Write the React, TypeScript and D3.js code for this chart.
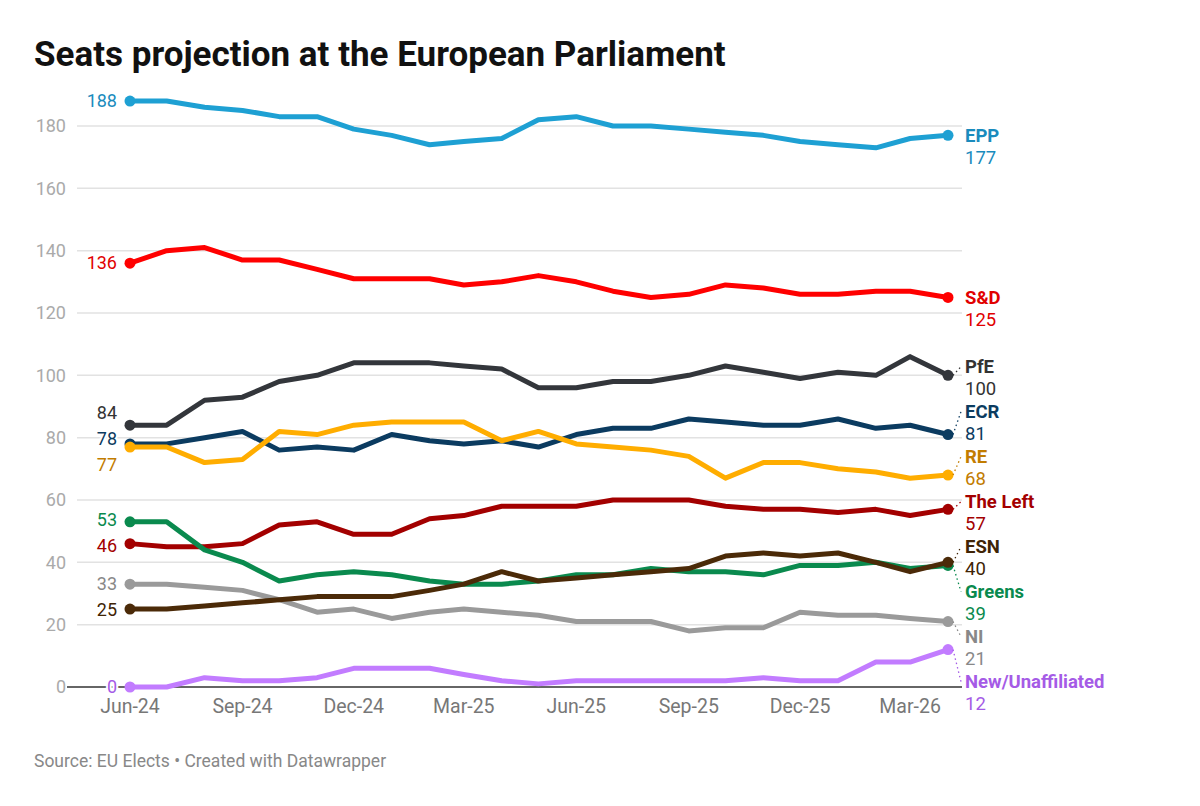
import React from 'react';
import * as d3 from 'd3';

const months = [
  '2024-06', '2024-07', '2024-08', '2024-09', '2024-10', '2024-11', '2024-12',
  '2025-01', '2025-02', '2025-03', '2025-04', '2025-05', '2025-06', '2025-07',
  '2025-08', '2025-09', '2025-10', '2025-11', '2025-12', '2026-01', '2026-02',
  '2026-03', '2026-04',
];

const tickMonths = ['2024-06', '2024-09', '2024-12', '2025-03', '2025-06', '2025-09', '2025-12', '2026-03'];
const yTicks = [0, 20, 40, 60, 80, 100, 120, 140, 160, 180];

const epp = [188, 188, 186, 185, 183, 183, 179, 177, 174, 175, 176, 182, 183, 180, 180, 179, 178, 177, 175, 174, 173, 176, 177];
const sd = [136, 140, 141, 137, 137, 134, 131, 131, 131, 129, 130, 132, 130, 127, 125, 126, 129, 128, 126, 126, 127, 127, 125];
const pfe = [84, 84, 92, 93, 98, 100, 104, 104, 104, 103, 102, 96, 96, 98, 98, 100, 103, 101, 99, 101, 100, 106, 100];
const ecr = [78, 78, 80, 82, 76, 77, 76, 81, 79, 78, 79, 77, 81, 83, 83, 86, 85, 84, 84, 86, 83, 84, 81];
const re = [77, 77, 72, 73, 82, 81, 84, 85, 85, 85, 79, 82, 78, 77, 76, 74, 67, 72, 72, 70, 69, 67, 68];
const left = [46, 45, 45, 46, 52, 53, 49, 49, 54, 55, 58, 58, 58, 60, 60, 60, 58, 57, 57, 56, 57, 55, 57];
const esn = [25, 25, 26, 27, 28, 29, 29, 29, 31, 33, 37, 34, 35, 36, 37, 38, 42, 43, 42, 43, 40, 37, 40];
const greens = [53, 53, 44, 40, 34, 36, 37, 36, 34, 33, 33, 34, 36, 36, 38, 37, 37, 36, 39, 39, 40, 38, 39];
const ni = [33, 33, 32, 31, 28, 24, 25, 22, 24, 25, 24, 23, 21, 21, 21, 18, 19, 19, 24, 23, 23, 22, 21];
const newUnaff = [0, 0, 3, 2, 2, 3, 6, 6, 6, 4, 2, 1, 2, 2, 2, 2, 2, 3, 2, 2, 8, 8, 12];

const series = [
  { name: 'EPP', values: epp, color: '#1ea0d3', text: '#1a8bbd' },
  { name: 'S&D', values: sd, color: '#ff0000', text: '#e10000' },
  { name: 'PfE', values: pfe, color: '#33363b', text: '#333333' },
  { name: 'ECR', values: ecr, color: '#0b3b60', text: '#0b3b60' },
  { name: 'RE', values: re, color: '#ffad00', text: '#c27c00' },
  { name: 'The Left', values: left, color: '#a30000', text: '#a30000' },
  { name: 'Greens', values: greens, color: '#0a8a4e', text: '#0a8a4e' },
  { name: 'NI', values: ni, color: '#9a9a9a', text: '#888888' },
  { name: 'ESN', values: esn, color: '#4b2a08', text: '#402405' },
  { name: 'New/Unaffiliated', values: newUnaff, color: '#c27cff', text: '#a55be6' },
];

const W = 1200;
const H = 806;
const parse = d3.timeParse('%Y-%m');
const dates = months.map(m => parse(m) as Date);

// spread labels apart: merge overlapping clusters, center each on its mean
function dodge(wanted: number[], gap: number): number[] {
  const order = wanted.map((v, i) => i).sort((a, b) => wanted[a] - wanted[b]);
  let clusters: { idx: number[]; mean: number }[] = [];
  for (const i of order) {
    clusters.push({ idx: [i], mean: wanted[i] });
    let merged = true;
    while (merged && clusters.length > 1) {
      merged = false;
      const b = clusters[clusters.length - 1];
      const a = clusters[clusters.length - 2];
      const aEnd = a.mean + ((a.idx.length - 1) * gap) / 2;
      const bStart = b.mean - ((b.idx.length - 1) * gap) / 2;
      if (bStart - aEnd < gap) {
        const idx = a.idx.concat(b.idx);
        const mean = d3.mean(idx, k => wanted[k]) as number;
        clusters = clusters.slice(0, -2);
        clusters.push({ idx, mean });
        merged = true;
      }
    }
  }
  const out = new Array(wanted.length).fill(0);
  clusters.forEach(c => {
    const start = c.mean - ((c.idx.length - 1) * gap) / 2;
    c.idx.forEach((k, j) => (out[k] = start + j * gap));
  });
  return out;
}

export default function App() {
  const x = d3.scaleTime().domain([dates[0], dates[dates.length - 1]]).range([130, 948]);
  const y = d3.scaleLinear().domain([0, 180]).range([687, 126]);
  const line = d3
    .line<number>()
    .x((d, i) => x(dates[i]))
    .y(d => y(d));
  const last = dates.length - 1;

  const startY = dodge(series.map(s => y(s.values[0])), 26);
  const endY = dodge(series.map(s => y(s.values[last])), 45);
  const fmt = d3.timeFormat('%b-%y');

  return (
    <svg
      width={W}
      height={H}
      style={{ position: 'absolute', left: 0, top: 0, background: '#fff' }}
      fontFamily="Roboto, sans-serif"
    >
      <text x={34} y={66} fontSize={35} fontWeight={700} fill="#111">
        Seats projection at the European Parliament
      </text>

      {yTicks.map(t => (
        <g key={t}>
          {t > 0 && <line x1={77} x2={962} y1={y(t)} y2={y(t)} stroke="#e2e2e2" strokeWidth={1.5} />}
          <text x={66} y={y(t)} dy="0.35em" textAnchor="end" fontSize={18} fill="#aaaaaa">
            {t}
          </text>
        </g>
      ))}
      <line x1={67} x2={962} y1={y(0)} y2={y(0)} stroke="#333" strokeWidth={1.5} />

      {tickMonths.map(m => {
        const d = parse(m) as Date;
        return (
          <text key={m} x={x(d)} y={713} textAnchor="middle" fontSize={19.5} fill="#777">
            {fmt(d)}
          </text>
        );
      })}

      {series.map(s => (
        <g key={s.name}>
          <path d={line(s.values) || ''} fill="none" stroke={s.color} strokeWidth={5} strokeLinejoin="round" />
          <circle cx={x(dates[0])} cy={y(s.values[0])} r={5.5} fill={s.color} />
          <circle cx={x(dates[last])} cy={y(s.values[last])} r={5.5} fill={s.color} />
        </g>
      ))}

      {series.map((s, i) => (
        <text
          key={s.name + '-start'}
          x={117}
          y={startY[i]}
          dy="0.35em"
          textAnchor="end"
          fontSize={18}
          fill={s.text}
          stroke="#fff"
          strokeWidth={4}
          paintOrder="stroke"
        >
          {s.values[0]}
        </text>
      ))}

      {series.map((s, i) => {
        const dy = y(s.values[last]);
        const ly = endY[i];
        return (
          <g key={s.name + '-end'}>
            {Math.abs(ly - dy) > 4 && (
              <line
                x1={x(dates[last]) + 5}
                y1={dy}
                x2={961}
                y2={ly}
                stroke={s.text}
                strokeWidth={1.3}
                strokeDasharray="1.5,3"
              />
            )}
            <text x={965} y={ly} dy="0.35em" fontSize={18.5} fontWeight={700} fill={s.text}>
              {s.name}
            </text>
            <text x={965} y={ly + 22} dy="0.35em" fontSize={18.5} fill={s.text}>
              {s.values[last]}
            </text>
          </g>
        );
      })}

      <text x={34} y={767} fontSize={17.5} fill="#888">
        Source: EU Elects • Created with Datawrapper
      </text>
    </svg>
  );
}
